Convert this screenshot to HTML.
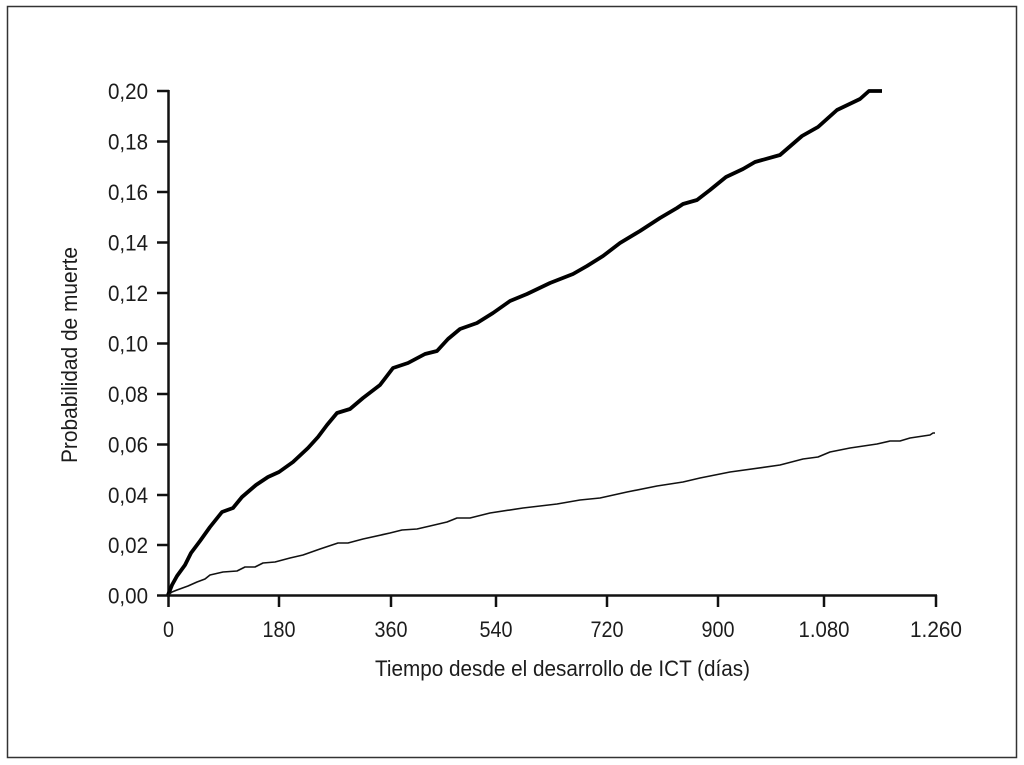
<!DOCTYPE html>
<html>
<head>
<meta charset="utf-8">
<style>
  html, body { margin: 0; padding: 0; background: #fff; }
  body { width: 1024px; height: 765px; overflow: hidden; }
  svg { display: block; }
  text { font-family: "Liberation Sans Narrow", "Liberation Sans", sans-serif; fill: #1c1c1c; font-size: 22px; }
</style>
</head>
<body>
<svg width="1024" height="765" viewBox="0 0 1024 765" xmlns="http://www.w3.org/2000/svg">
  <rect x="0" y="0" width="1024" height="765" fill="#fff"/>
  <rect x="7.5" y="6.5" width="1009" height="751" fill="none" stroke="#333" stroke-width="1.5"/>

  <!-- axes -->
  <g stroke="#111" stroke-width="2.5" fill="none" stroke-linecap="butt">
    <line x1="168.5" y1="90" x2="168.5" y2="597"/>
    <line x1="167" y1="595.5" x2="937" y2="595.5"/>
    <!-- y ticks -->
    <line x1="157" y1="91" x2="169" y2="91"/>
    <line x1="157" y1="141.5" x2="169" y2="141.5"/>
    <line x1="157" y1="192" x2="169" y2="192"/>
    <line x1="157" y1="242.5" x2="169" y2="242.5"/>
    <line x1="157" y1="293" x2="169" y2="293"/>
    <line x1="157" y1="343.5" x2="169" y2="343.5"/>
    <line x1="157" y1="394" x2="169" y2="394"/>
    <line x1="157" y1="444.5" x2="169" y2="444.5"/>
    <line x1="157" y1="495" x2="169" y2="495"/>
    <line x1="157" y1="545" x2="169" y2="545"/>
    <line x1="157" y1="595.5" x2="169" y2="595.5"/>
    <!-- x ticks -->
    <line x1="168.5" y1="595" x2="168.5" y2="607"/>
    <line x1="279" y1="595" x2="279" y2="607"/>
    <line x1="391" y1="595" x2="391" y2="607"/>
    <line x1="496" y1="595" x2="496" y2="607"/>
    <line x1="607" y1="595" x2="607" y2="607"/>
    <line x1="718" y1="595" x2="718" y2="607"/>
    <line x1="824" y1="595" x2="824" y2="607"/>
    <line x1="936" y1="595" x2="936" y2="607"/>
  </g>

  <!-- y tick labels -->
  <g text-anchor="end">
    <text x="148" y="99" textLength="40" lengthAdjust="spacingAndGlyphs">0,20</text>
    <text x="148" y="149.5" textLength="40" lengthAdjust="spacingAndGlyphs">0,18</text>
    <text x="148" y="200" textLength="40" lengthAdjust="spacingAndGlyphs">0,16</text>
    <text x="148" y="250.5" textLength="40" lengthAdjust="spacingAndGlyphs">0,14</text>
    <text x="148" y="301" textLength="40" lengthAdjust="spacingAndGlyphs">0,12</text>
    <text x="148" y="351.5" textLength="40" lengthAdjust="spacingAndGlyphs">0,10</text>
    <text x="148" y="402" textLength="40" lengthAdjust="spacingAndGlyphs">0,08</text>
    <text x="148" y="452.5" textLength="40" lengthAdjust="spacingAndGlyphs">0,06</text>
    <text x="148" y="503" textLength="40" lengthAdjust="spacingAndGlyphs">0,04</text>
    <text x="148" y="553" textLength="40" lengthAdjust="spacingAndGlyphs">0,02</text>
    <text x="148" y="603.5" textLength="40" lengthAdjust="spacingAndGlyphs">0,00</text>
  </g>

  <!-- x tick labels -->
  <g text-anchor="middle">
    <text x="168.5" y="637" textLength="11" lengthAdjust="spacingAndGlyphs">0</text>
    <text x="279" y="637" textLength="33" lengthAdjust="spacingAndGlyphs">180</text>
    <text x="391" y="637" textLength="33" lengthAdjust="spacingAndGlyphs">360</text>
    <text x="496" y="637" textLength="33" lengthAdjust="spacingAndGlyphs">540</text>
    <text x="607" y="637" textLength="33" lengthAdjust="spacingAndGlyphs">720</text>
    <text x="718" y="637" textLength="33" lengthAdjust="spacingAndGlyphs">900</text>
    <text x="824" y="637" textLength="51" lengthAdjust="spacingAndGlyphs">1.080</text>
    <text x="936" y="637" textLength="52" lengthAdjust="spacingAndGlyphs">1.260</text>
  </g>

  <!-- axis titles -->
  <text x="375" y="676" textLength="375" lengthAdjust="spacingAndGlyphs">Tiempo desde el desarrollo de ICT (días)</text>
  <text transform="translate(77,463) rotate(-90)" x="0" y="0" textLength="216" lengthAdjust="spacingAndGlyphs">Probabilidad de muerte</text>

  <!-- thick curve -->
  <polyline fill="none" stroke="#000" stroke-width="3.8" stroke-linejoin="round" stroke-linecap="butt" points="
168,595 172,585 177,576 185,565 191,553 200,541 210,527 222,512 233,508 242,497 256,485 268,477 279,472 293,462 308,448 318,437 327,425 337,413 350,409 363,398 380,385 393,368 408,363 425,354 437,351 448,339 460,329 477,323 493,313 510,301 527,294 550,283 573,274 587,266 603,256 620,243 640,231 660,218 677,208 683,204 697,200 710,190 726,177 743,169 755,162 780,155 802,136 818,127 837,110 860,99 869,91 882,91"/>

  <!-- thin curve -->
  <polyline fill="none" stroke="#111" stroke-width="1.6" stroke-linejoin="round" points="
168,595 172,592 177,590 188,586 197,582 205,579 210,575 223,572 237,571 245,567 255,567 263,563 275,562 290,558 303,555 320,549 338,543 348,543 363,539 390,533 402,530 417,529 430,526 447,522 457,518 470,518 490,513 523,508 557,504 580,500 600,498 627,492 657,486 683,482 700,478 730,472 780,465 803,459 818,457 830,452 850,448 877,444 890,441 900,441 910,438 930,435 933,433 935,433"/>
</svg>
</body>
</html>
